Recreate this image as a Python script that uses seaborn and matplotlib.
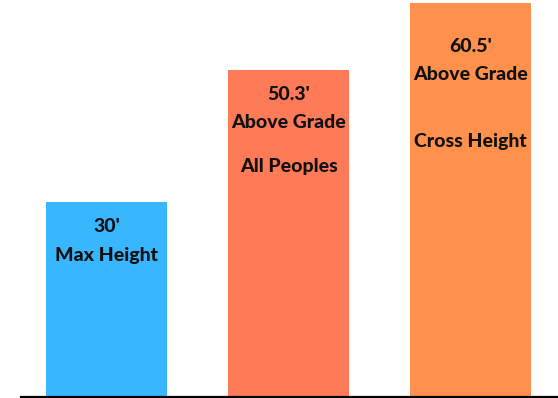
import matplotlib
matplotlib.use("Agg")
import matplotlib.pyplot as plt
import matplotlib.transforms as mtransforms
import seaborn as sns

categories = ["Max Height", "All Peoples", "Cross Height"]
values = [30, 50.3, 60.5]
colors = ["#38B6FF", "#FF7A57", "#FF914D"]
label_lines = [
    ["30'", "Max Height"],
    ["50.3'", "Above Grade", "All Peoples"],
    ["60.5'", "Above Grade", "Cross Height"],
]
# vertical pixel positions (from figure top) of each label line
label_y_px = [
    [227, 256],
    [94, 122, 166],
    [47, 75, 142],
]

sns.set_style("white")
plt.rcParams['font.family'] = ['Lato', 'DejaVu Sans']

W, H = 558, 398
fig = plt.figure(figsize=(W / 100, H / 100), dpi=100)
ax_bottom_px = 1.5
ax_left_px = 21
ax = fig.add_axes([ax_left_px / W, ax_bottom_px / H, (W - ax_left_px) / W, (H - ax_bottom_px) / H])

sns.barplot(x=categories, y=values, hue=categories, palette=colors, width=0.665,
            saturation=1, legend=False, ax=ax, edgecolor="none")

ax.set_xlim(-0.47, 2.48)
ax_h_px = H - ax_bottom_px
ax.set_ylim(0, ax_h_px / 6.5)

for s in ["left", "top", "right"]:
    ax.spines[s].set_visible(False)
ax.spines["bottom"].set_color("black")
ax.spines["bottom"].set_linewidth(1.6)
ax.set_xticks([])
ax.set_yticks([])
ax.set_xlabel("")
ax.set_ylabel("")

trans = mtransforms.blended_transform_factory(ax.transData, ax.transAxes)
for i, (lines, ys) in enumerate(zip(label_lines, label_y_px)):
    for text, ypx in zip(lines, ys):
        frac = (H - ypx - ax_bottom_px) / ax_h_px
        ax.text(i, frac, text, transform=trans, ha="center", va="center",
                fontsize=14, fontweight=900, color="#111111")

fig.savefig("out.png", dpi=100)
